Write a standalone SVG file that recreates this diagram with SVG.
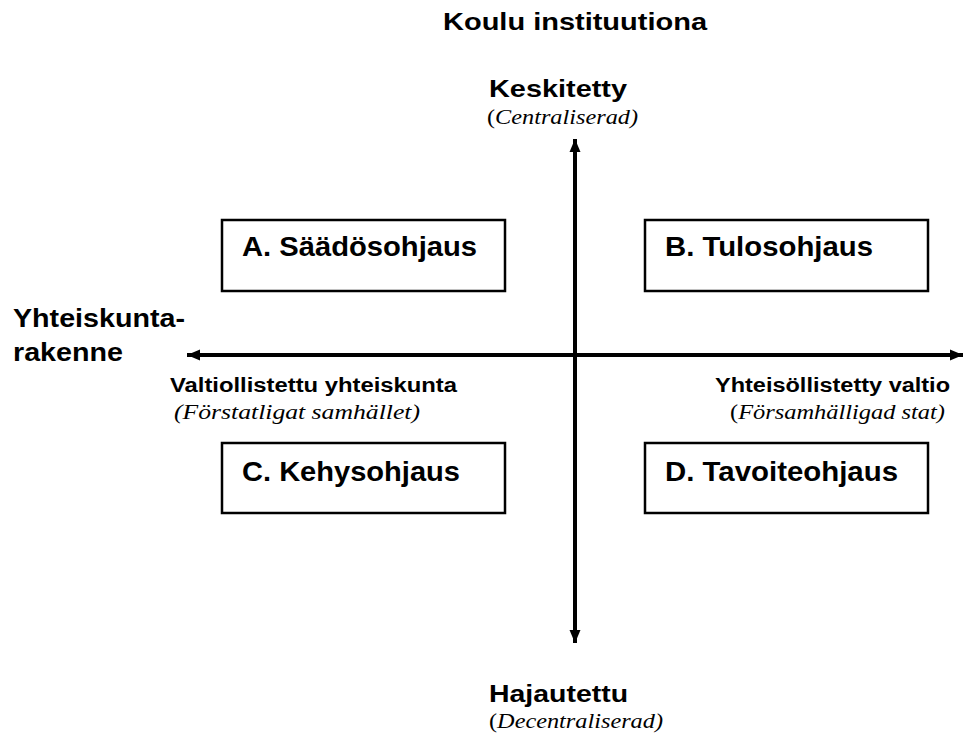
<svg xmlns="http://www.w3.org/2000/svg" width="966" height="739" viewBox="0 0 966 739">
  <defs>
    <marker id="head" markerUnits="userSpaceOnUse" markerWidth="14" markerHeight="14" viewBox="0 0 14 14" refX="13" refY="7" orient="auto">
      <path d="M0,1.5 L13,7 L0,12.5 Z" fill="#000"/>
    </marker>
    <style>
      .bold { font-family: "Liberation Sans", Arial, sans-serif; font-weight: bold; fill: #000; }
      .it { font-family: "Liberation Serif", "Times New Roman", serif; font-style: italic; fill: #000; }
      .up { font-style: normal; }
      .box { fill: #fff; stroke: #000; stroke-width: 2.5; }
      .axis { fill: none; stroke: #000; stroke-width: 4; marker-end: url(#head); }
    </style>
  </defs>

  <rect width="966" height="739" fill="#fff"/>

  <!-- titles and axis labels -->
  <g id="title">
    <text class="bold" x="443" y="30" font-size="24" textLength="264" lengthAdjust="spacingAndGlyphs">Koulu instituutiona</text>
  </g>
  <g id="top-label">
    <text class="bold" x="489" y="97" font-size="24" textLength="138" lengthAdjust="spacingAndGlyphs">Keskitetty</text>
    <text class="it" x="487" y="124" font-size="21" textLength="151" lengthAdjust="spacingAndGlyphs"><tspan class="up">(</tspan>Centraliserad)</text>
  </g>
  <g id="bottom-label">
    <text class="bold" x="489" y="702" font-size="24" textLength="139" lengthAdjust="spacingAndGlyphs">Hajautettu</text>
    <text class="it" x="489" y="728" font-size="21" textLength="174" lengthAdjust="spacingAndGlyphs"><tspan class="up">(</tspan>Decentraliserad)</text>
  </g>
  <g id="left-label">
    <text class="bold" x="13" y="327" font-size="26" textLength="172" lengthAdjust="spacingAndGlyphs">Yhteiskunta-</text>
    <text class="bold" x="13" y="361" font-size="26" textLength="110" lengthAdjust="spacingAndGlyphs">rakenne</text>
  </g>
  <g id="left-end">
    <text class="bold" x="170" y="392" font-size="20" textLength="287" lengthAdjust="spacingAndGlyphs">Valtiollistettu yhteiskunta</text>
    <text class="it" x="174" y="419" font-size="20" textLength="246" lengthAdjust="spacingAndGlyphs">(Förstatligat samhället)</text>
  </g>
  <g id="right-end">
    <text class="bold" x="715" y="392" font-size="20" textLength="235" lengthAdjust="spacingAndGlyphs">Yhteisöllistetty valtio</text>
    <text class="it" x="730" y="419" font-size="20" textLength="215" lengthAdjust="spacingAndGlyphs"><tspan class="up">(</tspan>Församhälligad stat)</text>
  </g>

  <!-- axes -->
  <g id="connectors">
    <path class="axis" d="M575,355 L575,139"/>
    <path class="axis" d="M575,355 L575,643"/>
    <path class="axis" d="M575,355 L187,355"/>
    <path class="axis" d="M575,355 L963,355"/>
  </g>

  <!-- quadrant boxes -->
  <g id="box-a">
    <rect class="box" x="222" y="220" width="283" height="71"/>
    <text class="bold" x="242" y="256" font-size="28" textLength="235" lengthAdjust="spacingAndGlyphs">A. Säädösohjaus</text>
  </g>
  <g id="box-b">
    <rect class="box" x="645" y="220" width="283" height="71"/>
    <text class="bold" x="665" y="256" font-size="28" textLength="208" lengthAdjust="spacingAndGlyphs">B. Tulosohjaus</text>
  </g>
  <g id="box-c">
    <rect class="box" x="222" y="443" width="283" height="70"/>
    <text class="bold" x="242" y="481" font-size="28" textLength="218" lengthAdjust="spacingAndGlyphs">C. Kehysohjaus</text>
  </g>
  <g id="box-d">
    <rect class="box" x="645" y="443" width="283" height="70"/>
    <text class="bold" x="665" y="481" font-size="28" textLength="233" lengthAdjust="spacingAndGlyphs">D. Tavoiteohjaus</text>
  </g>
</svg>
